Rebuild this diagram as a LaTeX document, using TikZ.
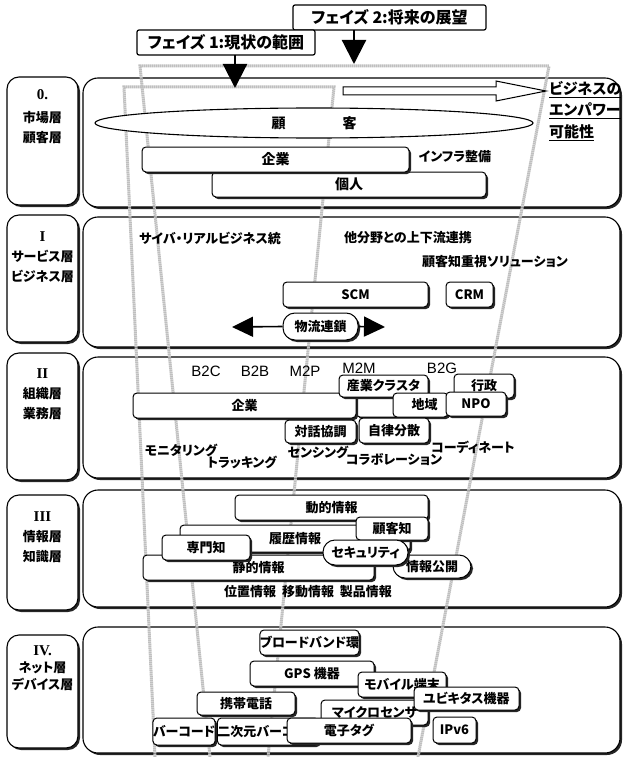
\documentclass[tikz,border=0pt]{standalone}
\usepackage{fontspec}
\newfontfamily\jpfont[RawFeature=+palt]{Noto Sans CJK JP}
\newfontfamily\latfont{Liberation Sans}
\newfontfamily\numfont{Liberation Serif}
\usetikzlibrary{arrows.meta, shapes.geometric, shadows}

\begin{document}
\begin{tikzpicture}[
    x=1pt, y=-1pt,
    every node/.style={inner sep=0pt, font=\jpfont\bfseries\fontsize{13}{15}\selectfont},
    shadowed/.style={drop shadow={shadow xshift=2pt, shadow yshift=-2pt, fill=black!85, opacity=1}},
    layerbox/.style={draw, line width=1.1pt, fill=white, rounded corners=15pt, minimum width=537pt, shadowed},
    sidebox/.style={draw, line width=1.1pt, fill=white, rounded corners=12pt, minimum width=71pt, shadowed},
    sidelbl/.style={anchor=north, align=center, font=\jpfont\bfseries\fontsize{13}{20}\selectfont},
    tagbox/.style={draw, line width=1pt, fill=white, rounded corners=4pt, shadowed},
    pillbox/.style={tagbox, rounded corners=12pt},
    phasebox/.style={draw, line width=1.2pt, fill=white, rounded corners=2pt, minimum height=25pt, font=\jpfont\bfseries\fontsize{16}{18}\selectfont},
    wh/.style 2 args={minimum width=#1pt, minimum height=#2pt},
    phaseline/.style={draw=gray!50, line width=3pt, dash pattern=on 1.5pt off 0.5pt},
    abc/.style={font=\latfont\fontsize{15}{17}\selectfont},
    fat/.style={-{Triangle[width=24pt,length=24pt]}, line width=2.2pt},
    logiarrow/.style={-{Triangle[width=20pt,length=21pt]}, line width=1.6pt}
]
\newcommand\lyrnum[1]{{\numfont\bfseries\fontsize{15}{17}\selectfont #1}}
\useasboundingbox (0,0) rectangle (622,757);
% Layer frames
\node[layerbox, wh={537}{129}] (lay0) at (351.5,142.5) {};
\node[layerbox, wh={537}{130}] (lay1) at (351.5,282) {};
\node[layerbox, wh={537}{121}] (lay2) at (351.5,417.5) {};
\node[layerbox, wh={537}{117}] (lay3) at (351.5,548.5) {};
\node[layerbox, wh={537}{126}] (lay4) at (351.5,690) {};
% Side labels
\node[sidebox, wh={71}{128}] (side0) at (42.5,141) {};
\node[sidebox, wh={71}{127}] (side1) at (42.5,278.5) {};
\node[sidebox, wh={71}{127}] (side2) at (42.5,416.5) {};
\node[sidebox, wh={71}{115}] (side3) at (42.5,552.5) {};
\node[sidebox, wh={71}{113}] (side4) at (42.5,691.5) {};
\node[sidelbl] (sidetxt0) at (42.5,89) {\lyrnum{0.}\\[3pt]市場層\\顧客層};
\node[sidelbl] (sidetxt1) at (42.5,231) {\lyrnum{I}\\サービス層\\ビジネス層};
\node[sidelbl] (sidetxt2) at (42.5,368) {\lyrnum{II}\\組織層\\業務層};
\node[sidelbl] (sidetxt3) at (42.5,511) {\lyrnum{III}\\情報層\\知識層};
\node[sidelbl, font=\jpfont\bfseries\fontsize{13}{17}\selectfont] (sidetxt4) at (42.5,645) {\lyrnum{IV.}\\ネット層\\デバイス層};
% Phase outlines (gray)
\draw[phaseline] (210,757) -- (140,66) -- (549,66) -- (418,757);
\draw[phaseline] (155,757) -- (124,87) -- (334,87) -- (268,757);
% --- Layer 0
\draw[line width=1pt, fill=white] (343,87) -- (496,87) -- (496,81) -- (546,91)
    -- (496,101) -- (496,95) -- (343,95) -- cycle;
\node[anchor=west, align=left, font=\jpfont\bfseries\fontsize{15}{21.5}\selectfont] (biz) at (549,111)
    {\underline{ビジネスの}\\\underline{エンパワー}\\\underline{可能性}};
\node[draw, ellipse, line width=1.1pt, fill=white, wh={438}{30}, font=\jpfont\bfseries\fontsize{14}{16}\selectfont] (cust) at (314,123) {顧\hspace{57pt}客};
\node[tagbox, wh={274}{25}, font=\jpfont\bfseries\fontsize{14}{16}\selectfont] (indiv) at (349,184.5) {個人};
\node[tagbox, wh={267}{25}, font=\jpfont\bfseries\fontsize{14}{16}\selectfont] (corp0) at (275.5,159.5) {企業};
\node (infra) at (455,157) {インフラ整備};
% --- Layer I
\node (cyber) at (210,238) {サイバ・リアルビジネス統};
\node (other) at (408,238) {他分野との上下流連携};
\node (sol) at (495,262) {顧客知重視ソリューション};
\node[tagbox, wh={145}{25}] (scm) at (355.5,294.5) {SCM};
\node[tagbox, wh={47}{25}] (crm) at (469.5,294.5) {CRM};
\node[pillbox, wh={75}{27}] (logi) at (320.5,326.5) {物流連鎖};
\coordinate (logiL) at (232,327);
\coordinate (logiR) at (385,327);
\draw[logiarrow] (logi.west) -- (logiL);
\draw[logiarrow] (logi.east) -- (logiR);
% --- Layer II
\node[abc] (b2c) at (206,371) {B2C};
\node[abc] (b2b) at (255,371) {B2B};
\node[abc] (m2p) at (305,371) {M2P};
\node[abc] (m2m) at (359,368) {M2M};
\node[abc] (b2g) at (442,368) {B2G};
\node (mon) at (181,450) {モニタリング};
\node (trk) at (242,462) {トラッキング};
\node (sens) at (318,452) {センシング};
\node (collab) at (394,460) {コラボレーション};
\node (coord) at (473,447) {コーディネート};
\node[tagbox, wh={44}{32}] (blank) at (378,401) {};
\node[tagbox, wh={223}{25}] (corp2) at (244.5,405.5) {企業};
\node[tagbox, wh={89}{22}] (cluster) at (383.5,386) {産業クラスタ};
\node[tagbox, wh={55}{24}] (region) at (420.5,405) {\hspace{8pt}地域};
\node[tagbox, wh={60}{24}] (gov) at (484,386) {行政};
\node[tagbox, wh={60}{24}] (npo) at (476,404) {NPO};
\node[tagbox, wh={71}{23}] (dialog) at (320.5,431.5) {対話協調};
\node[tagbox, wh={70}{25}] (auto) at (394,430.5) {自律分散};
% --- Layer III
\node (posinfo) at (308,592) {位置情報\ \ 移動情報\ \ 製品情報};
\node[tagbox, wh={193}{25}] (dyn) at (331.5,507.5) {動的情報};
\node[tagbox, wh={230}{27}] (hist) at (295,538.5) {履歴情報};
\node[tagbox, wh={72}{23}] (custk) at (392,528.5) {顧客知};
\node[tagbox, wh={231}{25}] (stat) at (258.5,567.5) {静的情報};
\node[tagbox, wh={88}{25}] (expert) at (206,547.5) {専門知};
\node[pillbox, wh={78}{23}] (disc) at (432,566.5) {情報公開};
\node[pillbox, wh={85}{25}] (secu) at (365.5,552.5) {セキュリティ};
% --- Layer IV
\node[tagbox, wh={93}{25}] (bband) at (309.5,642.5) {ブロードバンド環};
\node[tagbox, wh={124}{25}] (gps) at (312,673.5) {GPS 機器};
\node[tagbox, wh={88}{25}] (mobile) at (402,684.5) {モバイル端末};
\node[tagbox, wh={107}{25}] (msens) at (374.5,712.5) {マイクロセンサ};
\node[tagbox, wh={105}{23}] (ubiq) at (466.5,698.5) {ユビキタス機器};
\node[tagbox, wh={98}{23}] (phone) at (246,703.5) {携帯電話};
\node[tagbox, wh={62}{27}] (barcode) at (184,731.5) {バーコード};
\node[tagbox, wh={100}{27}] (qrcode) at (268,731.5) {二次元バーコード};
\node[tagbox, wh={124}{25}] (rfid) at (349,730.5) {電子タグ};
\node[tagbox, wh={43}{26}] (ipv6) at (454.5,730) {IPv6};
% Phase labels and arrows
\node[phasebox, minimum width=193pt] (ph2) at (389.5,17.5) {フェイズ 2:将来の展望};
\node[phasebox, minimum width=178pt] (ph1) at (226,42.5) {フェイズ 1:現状の範囲};
\coordinate (ph1foot) at (235,55);
\coordinate (ph1tip) at (235,88);
\coordinate (ph2foot) at (354,30);
\coordinate (ph2tip) at (354,64);
\draw[fat] (ph1foot) -- (ph1tip);
\draw[fat] (ph2foot) -- (ph2tip);
\end{tikzpicture}
\end{document}
